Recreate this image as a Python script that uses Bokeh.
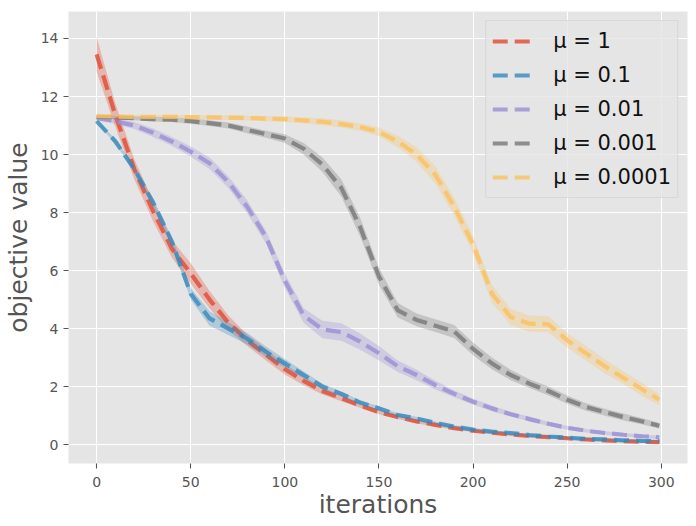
from bokeh.plotting import figure
from bokeh.models import Range1d, FixedTicker, Legend, LegendItem, ColumnDataSource
from bokeh.embed import file_html
from bokeh.resources import INLINE

# ---------------- data ----------------
iterations = [0, 10, 20, 30, 40, 50, 60, 70, 80, 90,
              100, 110, 120, 130, 140, 150, 160, 170, 180, 190,
              200, 210, 220, 230, 240, 250, 260, 270, 280, 290, 299]

labels = ["μ = 1", "μ = 0.1", "μ = 0.01", "μ = 0.001", "μ = 0.0001"]
colors = ["#E24A33", "#348ABD", "#988ED5", "#777777", "#FBC15E"]

obj_mu_1 = [13.45, 11.35, 9.5, 8.05, 6.75, 5.9, 5.0, 4.2, 3.6, 3.1,
            2.6, 2.2, 1.85, 1.6, 1.35, 1.12, 0.95, 0.8, 0.68, 0.57,
            0.48, 0.41, 0.35, 0.3, 0.26, 0.22, 0.18, 0.15, 0.12, 0.1, 0.09]
std_mu_1 = [0.6, 0.4, 0.35, 0.35, 0.3, 0.35, 0.3, 0.25, 0.2, 0.2,
            0.18, 0.15, 0.12, 0.1, 0.08, 0.07, 0.07, 0.06, 0.06, 0.05,
            0.05, 0.05, 0.05, 0.05, 0.04, 0.04, 0.04, 0.04, 0.04, 0.04, 0.04]

obj_mu_01 = [11.15, 10.45, 9.5, 8.35, 7.0, 5.2, 4.35, 4.0, 3.65, 3.2,
             2.8, 2.4, 2.0, 1.75, 1.45, 1.25, 1.02, 0.9, 0.75, 0.62,
             0.52, 0.45, 0.4, 0.33, 0.28, 0.24, 0.2, 0.18, 0.15, 0.13, 0.12]
std_mu_01 = [0.05, 0.08, 0.1, 0.12, 0.15, 0.2, 0.25, 0.22, 0.2, 0.18,
             0.15, 0.12, 0.1, 0.08, 0.07, 0.07, 0.06, 0.06, 0.05, 0.05,
             0.05, 0.05, 0.04, 0.04, 0.04, 0.04, 0.04, 0.04, 0.04, 0.04, 0.04]

obj_mu_001 = [11.25, 11.15, 11.0, 10.75, 10.45, 10.1, 9.7, 9.05, 8.2, 7.15,
              5.65, 4.45, 3.97, 3.88, 3.55, 3.15, 2.7, 2.4, 2.05, 1.75,
              1.48, 1.25, 1.05, 0.88, 0.72, 0.58, 0.48, 0.4, 0.34, 0.29, 0.25]
std_mu_001 = [0.05, 0.1, 0.12, 0.15, 0.15, 0.18, 0.2, 0.2, 0.22, 0.22,
              0.25, 0.25, 0.3, 0.3, 0.28, 0.25, 0.2, 0.18, 0.15, 0.12,
              0.1, 0.1, 0.08, 0.08, 0.07, 0.07, 0.06, 0.06, 0.06, 0.06, 0.06]

obj_mu_0001 = [11.3, 11.28, 11.25, 11.22, 11.2, 11.15, 11.08, 11.0, 10.85, 10.7,
               10.55, 10.2, 9.65, 8.85, 7.5, 5.8, 4.63, 4.3, 4.1, 3.9,
               3.3, 2.8, 2.4, 2.1, 1.85, 1.55, 1.3, 1.12, 0.95, 0.8, 0.65]
std_mu_0001 = [0.05, 0.06, 0.07, 0.08, 0.08, 0.09, 0.1, 0.1, 0.12, 0.12,
               0.15, 0.2, 0.25, 0.3, 0.32, 0.3, 0.25, 0.22, 0.22, 0.22,
               0.22, 0.2, 0.18, 0.15, 0.15, 0.14, 0.13, 0.12, 0.12, 0.11, 0.1]

obj_mu_00001 = [11.32, 11.31, 11.3, 11.3, 11.3, 11.29, 11.28, 11.27, 11.26, 11.24,
                11.22, 11.18, 11.13, 11.05, 10.95, 10.78, 10.45, 10.0, 9.3, 8.2,
                6.9, 5.2, 4.4, 4.17, 4.15, 3.6, 3.15, 2.7, 2.3, 1.9, 1.55]
std_mu_00001 = [0.05, 0.05, 0.05, 0.06, 0.06, 0.07, 0.07, 0.08, 0.08, 0.09,
                0.1, 0.1, 0.12, 0.12, 0.13, 0.15, 0.2, 0.25, 0.3, 0.3,
                0.3, 0.3, 0.28, 0.28, 0.28, 0.25, 0.25, 0.24, 0.22, 0.22, 0.2]

x_ticks = [0, 50, 100, 150, 200, 250, 300]
y_ticks = [0, 2, 4, 6, 8, 10, 12, 14]

series = [
    (labels[0], colors[0], obj_mu_1, std_mu_1),
    (labels[1], colors[1], obj_mu_01, std_mu_01),
    (labels[2], colors[2], obj_mu_001, std_mu_001),
    (labels[3], colors[3], obj_mu_0001, std_mu_0001),
    (labels[4], colors[4], obj_mu_00001, std_mu_00001),
]

FONT = "DejaVu Sans"
TXT = "#555555"

p = figure(width=696, height=526, output_backend="svg", toolbar_location=None,
           x_range=Range1d(-14.95, 313.95), y_range=Range1d(-0.65, 14.93),
           min_border_left=68, min_border_right=9, min_border_top=11, min_border_bottom=63)

p.background_fill_color = "#E5E5E5"
p.border_fill_color = "white"
p.outline_line_color = None

for ax, ticks in ((p.xaxis, x_ticks), (p.yaxis, y_ticks)):
    ax.ticker = FixedTicker(ticks=ticks)
    ax.axis_line_color = None
    ax.major_tick_line_color = TXT
    ax.major_tick_line_width = 1.1
    ax.major_tick_out = 5
    ax.major_tick_in = 0
    ax.minor_tick_line_color = None
    ax.major_label_text_font = FONT
    ax.major_label_text_font_size = "14px"
    ax.major_label_text_color = TXT
    ax.axis_label_text_font = FONT
    ax.axis_label_text_font_size = "25px"
    ax.axis_label_text_font_style = "normal"
    ax.axis_label_text_color = TXT

p.xaxis.axis_label = "iterations"
p.yaxis.axis_label = "objective value"
p.xaxis.major_label_standoff = 8
p.xaxis.axis_label_standoff = 0
p.yaxis.major_label_standoff = 5
p.yaxis.axis_label_standoff = 5

p.grid.grid_line_color = "white"
p.grid.grid_line_width = 1.1

items = []
for lab, col, obj, std in series:
    lower = [m - s for m, s in zip(obj, std)]
    upper = [m + s for m, s in zip(obj, std)]
    src = ColumnDataSource(dict(x=iterations, y=obj, lo=lower, hi=upper))
    r = p.line("x", "y", source=src, line_color=col, line_alpha=0.8,
               line_width=4.2, line_dash="15 7")
    p.varea(x="x", y1="lo", y2="hi", source=src, fill_color=col, fill_alpha=0.3)
    items.append(LegendItem(label=lab, renderers=[r]))

legend = Legend(items=items, location="top_right")
legend.margin = 9
legend.padding = 6
legend.spacing = 6
legend.glyph_width = 38
legend.glyph_height = 28
legend.label_height = 28
legend.label_standoff = 23
legend.label_text_font = FONT
legend.label_text_font_size = "21px"
legend.label_text_color = "#111111"
legend.background_fill_color = "#E5E5E5"
legend.background_fill_alpha = 0.8
legend.border_line_color = "#CCCCCC"
legend.border_line_width = 1
p.add_layout(legend, "center")

open("out.html", "w").write(file_html(p, INLINE))
